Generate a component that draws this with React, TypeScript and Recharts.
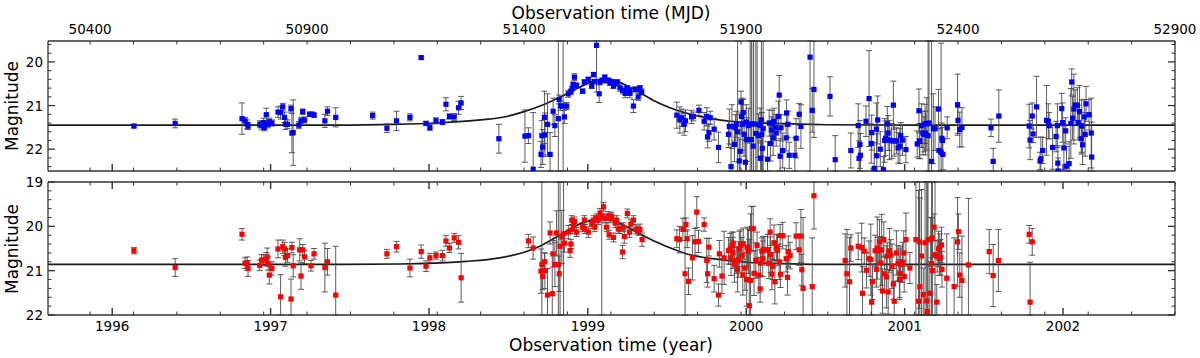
import React from 'react';
import { ComposedChart, Scatter, Line, XAxis, YAxis, ErrorBar } from 'recharts';

type Obs = [number, number, number];
type Pt = [number, number];

const MJD_DOMAIN: [number, number] = [50303, 52900];
const TOP_MAG_DOMAIN: [number, number] = [19.52, 22.5];
const BOTTOM_MAG_DOMAIN: [number, number] = [19, 22];

const mjdTicks = [50400, 50500, 50600, 50700, 50800, 50900, 51000, 51100, 51200, 51300, 51400, 51500, 51600,
  51700, 51800, 51900, 52000, 52100, 52200, 52300, 52400, 52500, 52600, 52700, 52800, 52900];
const mjdLabels = [50400, 50900, 51400, 51900, 52400, 52900];
const yearTicks = [50451, 50816, 51181, 51547, 51912, 52277, 52642];
const yearLabels = ['1996', '1997', '1998', '1999', '2000', '2001', '2002'];
const topMagTicks = [19.6, 19.8, 20, 20.2, 20.4, 20.6, 20.8, 21, 21.2, 21.4, 21.6, 21.8, 22, 22.2, 22.4];
const bottomMagTicks = [19, 19.2, 19.4, 19.6, 19.8, 20, 20.2, 20.4, 20.6, 20.8, 21, 21.2, 21.4, 21.6, 21.8, 22];

// [MJD, magnitude, error] - blue band (top panel)
const blueObs: Obs[] = [
  [50501, 21.47, 0.04], [50596, 21.41, 0.1], [50750, 21.3, 0.36], [50757, 21.35, 0.08], [50762, 21.43, 0.1],
  [50764, 21.47, 0.08], [50791, 21.43, 0.08], [50795, 21.46, 0.1], [50800, 21.39, 0.1], [50802, 21.5, 0.08],
  [50806, 21.21, 0.15], [50810, 21.43, 0.08], [50813, 21.37, 0.08], [50819, 21.4, 0.07], [50833, 21.15, 0.12],
  [50839, 21.16, 0.15], [50844, 21.03, 0.08], [50848, 21.27, 0.12], [50850, 21.43, 0.12], [50855, 21.43, 0.1],
  [50863, 21.07, 0.08], [50865, 21.63, 0.45], [50868, 21.62, 0.75], [50881, 21.45, 0.08], [50886, 21.35, 0.08],
  [50890, 21.14, 0.06], [50894, 21.33, 0.07], [50906, 21.2, 0.05], [50912, 21.2, 0.05], [50916, 21.22, 0.05],
  [50941, 21.35, 0.15], [50947, 21.13, 0.1], [50966, 21.27, 0.22], [51051, 21.23, 0.08], [51084, 21.52, 0.1],
  [51106, 21.35, 0.22], [51137, 21.27, 0.08], [51163, 19.9, 0.03], [51174, 21.41, 0.05], [51183, 21.5, 0.07],
  [51197, 21.35, 0.07], [51212, 21.38, 0.06], [51220, 20.97, 0.15], [51228, 21.25, 0.06], [51239, 21.26, 0.08],
  [51249, 21.05, 0.15], [51255, 20.94, 0.15], [51342, 21.76, 0.33], [51402, 21.7, 0.6], [51410, 21.69, 0.18],
  [51421, 22.46, 1.3], [51439, 22.12, 0.3], [51441, 21.69, 0.35], [51443, 21.95, 0.4], [51447, 21.27, 0.6],
  [51448, 21.67, 0.5], [51454, 21.43, 0.7], [51460, 22.12, 0.5], [51467, 21.13, 0.3], [51471, 21.46, 0.25],
  [51479, 21.3, 3], [51481, 20.86, 0.1], [51484, 21.01, 0.1], [51490, 21.01, 3], [51493, 21.26, 0.15],
  [51498, 21.01, 0.08], [51502, 20.73, 0.08], [51508, 20.68, 0.06], [51511, 20.61, 0.05], [51513, 20.52, 0.06],
  [51516, 20.35, 0.08], [51521, 20.54, 0.06], [51535, 20.67, 0.05], [51539, 20.46, 0.05], [51548, 20.4, 0.05],
  [51556, 20.55, 0.06], [51560, 20.29, 0.05], [51562, 20.45, 0.05], [51567, 19.62, 1.07], [51573, 20.73, 0.2],
  [51575, 20.46, 0.05], [51580, 20.42, 0.05], [51586, 20.35, 0.05], [51590, 20.43, 0.05], [51594, 20.42, 0.05],
  [51598, 20.48, 0.06], [51602, 20.46, 0.05], [51606, 20.55, 0.06], [51610, 20.5, 0.05], [51615, 20.46, 0.05],
  [51621, 20.59, 0.08], [51627, 20.65, 0.08], [51633, 20.72, 0.1], [51637, 20.6, 0.06], [51643, 20.66, 0.07],
  [51644, 20.72, 0.1], [51652, 21.01, 0.15], [51656, 20.63, 0.06], [51663, 20.8, 0.08], [51667, 20.6, 0.06],
  [51671, 20.69, 0.07], [51752, 21.22, 0.3], [51759, 21.33, 0.3], [51763, 21.28, 0.2], [51769, 21.43, 0.25],
  [51772, 21.35, 0.25], [51786, 21.26, 0.15], [51790, 21.25, 0.1], [51803, 21.11, 0.12], [51815, 21.36, 0.2],
  [51821, 21.25, 0.2], [51823, 21.72, 0.25], [51826, 21.62, 0.2], [51829, 21.28, 0.15], [51838, 21.54, 0.25],
  [51848, 21.96, 0.35], [51871, 21.66, 0.3], [51873, 21.48, 0.4], [51877, 22.4, 0.5], [51879, 21.48, 0.5],
  [51885, 21.89, 0.4], [51887, 21.51, 0.3], [51889, 21.43, 0.3], [51892, 21.6, 2.5], [51896, 22.27, 0.5],
  [51898, 22.05, 0.6], [51900, 20.92, 0.25], [51901, 21.25, 0.4], [51903, 21.43, 0.6], [51905, 21.16, 0.3],
  [51907, 21.66, 0.5], [51910, 22.3, 0.5], [51912, 21.38, 0.4], [51913, 21.78, 0.5], [51917, 21.46, 0.4],
  [51921, 21.42, 3], [51924, 21.78, 3], [51928, 21.93, 2.5], [51929, 21.42, 3], [51934, 21.64, 2.5],
  [51937, 21.43, 3], [51940, 21.69, 0.5], [51944, 21.46, 0.4], [51945, 22.21, 0.4], [51947, 21.33, 1.8],
  [51948, 21.66, 0.5], [51949, 21.98, 0.6], [51951, 21.53, 2], [51961, 22.23, 0.4], [51965, 21.4, 0.3],
  [51968, 21.87, 0.4], [51970, 21.56, 0.3], [51972, 21.41, 0.3], [51974, 21.74, 0.4], [51976, 21.36, 0.3],
  [51980, 21.5, 0.3], [51981, 21.63, 0.3], [51986, 21.25, 0.35], [51988, 20.76, 0.45], [51990, 22.16, 0.4],
  [51992, 21.51, 0.3], [51996, 22.03, 0.4], [52004, 21.74, 0.3], [52005, 21.17, 0.3], [52008, 21.43, 0.3],
  [52011, 22.14, 0.3], [52024, 22.14, 0.4], [52027, 21.75, 0.45], [52034, 21.2, 0.25], [52038, 21.48, 0.5],
  [52059, 19.89, 2.7], [52064, 21.11, 0.5], [52068, 20.63, 1.1], [52105, 20.79, 0.45], [52117, 22.24, 0.55],
  [52153, 22.03, 0.4], [52170, 21.46, 0.5], [52172, 22.21, 0.4], [52174, 21.89, 0.55], [52175, 22.14, 0.5],
  [52188, 21.36, 0.35], [52195, 20.84, 1.1], [52200, 21.87, 0.45], [52201, 21.62, 0.4], [52207, 22.44, 0.6],
  [52212, 21.54, 0.6], [52213, 22.15, 0.5], [52215, 21.33, 0.55], [52221, 22.0, 0.4], [52228, 22.47, 0.3],
  [52231, 21.8, 0.5], [52233, 21.75, 0.4], [52237, 21.42, 0.4], [52239, 21.63, 0.4], [52242, 21.79, 0.45],
  [52247, 21.81, 0.4], [52251, 20.99, 0.55], [52253, 21.81, 0.35], [52258, 21.81, 0.3], [52262, 21.97, 0.35],
  [52266, 21.93, 0.4], [52268, 21.69, 0.3], [52272, 21.79, 0.35], [52280, 22.01, 0.3], [52306, 21.88, 0.3],
  [52310, 21.12, 0.5], [52311, 21.81, 0.4], [52312, 21.82, 0.4], [52316, 21.46, 0.5], [52319, 21.63, 0.5],
  [52322, 21.66, 0.4], [52324, 21.42, 0.45], [52325, 21.63, 0.5], [52328, 21.42, 0.6], [52331, 21.69, 3],
  [52333, 21.4, 3], [52339, 22.28, 3], [52343, 21.53, 0.8], [52347, 21.53, 0.5], [52355, 21.08, 0.45],
  [52356, 22.03, 0.5], [52361, 22.07, 2.5], [52363, 21.75, 0.35], [52364, 21.8, 0.3], [52365, 22.12, 0.35],
  [52375, 21.51, 0.25], [52399, 20.98, 0.7], [52400, 21.34, 0.3], [52404, 21.55, 0.4], [52409, 21.5, 0.45],
  [52476, 21.51, 0.2], [52481, 22.28, 0.3], [52494, 21.24, 0.6], [52564, 21.47, 0.5], [52566, 21.79, 0.45],
  [52571, 21.24, 0.3], [52573, 21.65, 0.2], [52581, 21.03, 0.7], [52589, 22.27, 0.2], [52591, 22.22, 0.5],
  [52595, 22.03, 0.3], [52604, 21.34, 0.8], [52608, 21.36, 0.4], [52610, 21.46, 0.3], [52618, 21.96, 0.5],
  [52626, 21.71, 0.35], [52629, 21.46, 0.5], [52630, 22.32, 0.4], [52631, 22.5, 0.3], [52639, 21.07, 0.35],
  [52641, 21.39, 0.45], [52644, 21.97, 0.5], [52648, 21.58, 0.3], [52650, 22.39, 0.45], [52656, 22.33, 0.5],
  [52660, 21.41, 0.8], [52662, 20.46, 0.3], [52664, 21.29, 0.5], [52667, 21.08, 0.8], [52670, 20.99, 0.35],
  [52675, 20.99, 0.4], [52677, 21.39, 0.4], [52680, 21.14, 0.6], [52684, 21.76, 0.35], [52685, 21.47, 0.6],
  [52687, 21.9, 0.45], [52691, 21.26, 0.4], [52693, 21.66, 0.5], [52695, 20.96, 0.4], [52702, 21.21, 0.35],
  [52707, 21.63, 0.8], [52708, 22.18, 0.8],
];

// [MJD, magnitude, error] - red band (bottom panel)
const redObs: Obs[] = [
  [50501, 20.55, 0.07], [50596, 20.93, 0.2], [50750, 20.18, 0.13], [50757, 20.83, 0.12], [50762, 20.84, 0.15],
  [50764, 20.95, 0.18], [50791, 20.88, 0.12], [50795, 20.76, 0.12], [50800, 20.76, 0.12], [50806, 20.74, 0.15],
  [50808, 20.69, 0.2], [50810, 20.84, 0.15], [50813, 21.1, 0.2], [50819, 20.95, 0.15], [50833, 20.51, 0.2],
  [50839, 21.59, 0.5], [50844, 20.46, 0.15], [50848, 20.51, 0.15], [50850, 20.7, 0.2], [50855, 20.66, 0.15],
  [50863, 21.64, 0.45], [50865, 20.48, 0.12], [50868, 20.89, 0.25], [50883, 20.53, 0.25], [50886, 21.12, 0.3],
  [50890, 20.53, 0.12], [50894, 20.69, 0.15], [50909, 20.89, 0.12], [50916, 20.62, 0.12], [50941, 20.93, 0.55],
  [50947, 20.8, 0.3], [50966, 21.55, 1.1], [51084, 20.62, 0.1], [51106, 20.46, 0.12], [51137, 20.94, 0.2],
  [51163, 20.57, 0.15], [51174, 20.9, 0.12], [51183, 20.71, 0.1], [51197, 20.66, 0.08], [51212, 20.66, 0.12],
  [51220, 20.33, 0.12], [51228, 20.49, 0.1], [51239, 20.26, 0.1], [51249, 20.36, 0.15], [51255, 21.16, 0.55],
  [51410, 20.33, 0.15], [51421, 20.49, 0.25], [51439, 21.01, 0.5], [51441, 20.86, 3], [51443, 21.13, 0.3],
  [51447, 20.8, 0.2], [51448, 21.0, 0.4], [51454, 21.55, 0.6], [51460, 20.15, 0.25], [51465, 21.52, 0.9],
  [51467, 20.62, 0.3], [51471, 20.86, 0.5], [51475, 20.15, 0.5], [51479, 20.86, 3], [51481, 21.07, 0.4],
  [51483, 20.45, 3], [51487, 20.24, 0.6], [51491, 20.17, 3], [51493, 20.38, 0.2], [51502, 20.13, 0.15],
  [51506, 20.55, 0.15], [51508, 20.4, 0.1], [51510, 19.86, 0.1], [51512, 20.07, 0.1], [51514, 19.97, 0.1],
  [51516, 19.89, 0.1], [51521, 20.13, 0.1], [51535, 20.02, 0.1], [51539, 19.86, 0.1], [51540, 20.06, 0.1],
  [51548, 20.13, 0.12], [51556, 19.95, 0.1], [51560, 19.86, 0.1], [51563, 20.02, 0.1], [51567, 19.82, 0.1],
  [51571, 19.86, 0.1], [51575, 19.7, 0.1], [51579, 19.77, 3], [51583, 19.56, 0.1], [51586, 19.82, 0.1],
  [51590, 20.02, 0.1], [51594, 19.77, 0.1], [51596, 20.19, 0.1], [51599, 19.82, 0.1], [51602, 19.78, 0.1],
  [51606, 20.25, 0.1], [51610, 19.93, 0.1], [51613, 19.86, 0.1], [51617, 20.06, 0.1], [51621, 20.06, 0.1],
  [51627, 20.58, 0.15], [51629, 20.02, 0.1], [51631, 20.23, 0.15], [51638, 19.71, 0.1], [51643, 20.13, 0.12],
  [51646, 19.95, 0.1], [51652, 19.86, 0.1], [51658, 20.07, 0.1], [51663, 20.1, 0.1], [51667, 20.07, 0.12],
  [51672, 20.3, 0.15], [51752, 20.28, 0.2], [51758, 20.3, 0.3], [51766, 20.07, 0.25], [51771, 21.07, 3],
  [51773, 19.96, 0.15], [51776, 20.28, 0.2], [51779, 21.24, 0.3], [51788, 20.71, 0.5], [51794, 20.35, 0.3],
  [51798, 19.68, 0.35], [51802, 20.34, 0.25], [51815, 19.96, 0.15], [51821, 20.77, 0.5], [51823, 21.07, 0.3],
  [51826, 20.47, 0.2], [51838, 21.18, 0.3], [51848, 21.55, 0.25], [51850, 20.62, 0.3], [51856, 21.12, 0.4],
  [51861, 20.71, 0.6], [51871, 20.55, 0.3], [51875, 20.51, 0.35], [51877, 20.71, 0.4], [51879, 20.43, 0.3],
  [51881, 20.6, 0.35], [51882, 20.38, 0.25], [51885, 20.86, 0.4], [51889, 20.77, 0.3], [51892, 20.98, 0.5],
  [51894, 20.75, 0.4], [51896, 20.51, 0.4], [51899, 20.43, 0.35], [51902, 20.65, 0.4], [51904, 21.1, 0.45],
  [51905, 20.39, 0.35], [51909, 20.94, 0.5], [51913, 21.2, 0.6], [51915, 20.47, 0.45], [51917, 20.56, 0.5],
  [51919, 21.79, 1.5], [51922, 21.22, 1.5], [51924, 20.05, 0.5], [51928, 20.05, 0.5], [51930, 21.06, 0.5],
  [51934, 20.77, 0.4], [51937, 20.43, 0.3], [51941, 21.1, 0.4], [51944, 21.41, 0.3], [51945, 20.83, 0.3],
  [51948, 20.56, 0.3], [51950, 20.73, 0.4], [51951, 20.53, 0.3], [51955, 20.53, 0.3], [51961, 20.53, 0.35],
  [51964, 20.83, 0.35], [51967, 20.13, 0.3], [51968, 20.64, 0.4], [51971, 21.08, 0.35], [51973, 20.9, 0.3],
  [51976, 20.37, 0.4], [51978, 21.25, 0.5], [51982, 20.48, 0.3], [51984, 20.54, 0.35], [51988, 20.8, 0.4],
  [51990, 20.21, 0.25], [51991, 21.08, 0.3], [51996, 20.21, 0.3], [52004, 20.73, 0.3], [52007, 21.15, 0.4],
  [52009, 20.57, 0.35], [52013, 20.66, 0.3], [52027, 20.22, 0.3], [52034, 20.53, 0.35], [52038, 20.22, 0.6],
  [52040, 20.98, 0.35], [52043, 21.4, 1.6], [52064, 21.36, 1.1], [52068, 19.31, 0.75], [52140, 20.77, 0.6],
  [52144, 21.07, 1.0], [52150, 21.25, 1.0], [52153, 20.49, 0.3], [52170, 20.45, 0.3], [52178, 20.48, 0.55],
  [52180, 21.51, 0.6], [52184, 20.56, 0.3], [52189, 20.99, 0.4], [52195, 20.73, 0.4], [52199, 20.75, 0.8],
  [52201, 21.71, 0.5], [52203, 21.25, 0.4], [52209, 20.55, 0.35], [52212, 20.97, 0.4], [52214, 20.49, 0.7],
  [52216, 20.55, 0.3], [52219, 20.35, 0.5], [52222, 20.83, 0.6], [52224, 20.53, 0.8], [52226, 21.46, 0.5],
  [52229, 20.3, 0.4], [52231, 21.07, 0.4], [52235, 21.14, 0.7], [52237, 20.67, 0.3], [52239, 21.48, 0.5],
  [52242, 20.55, 0.5], [52245, 20.65, 0.35], [52248, 20.9, 0.5], [52251, 21.3, 0.35], [52253, 21.69, 0.45],
  [52258, 20.6, 0.5], [52262, 20.83, 0.4], [52265, 21.2, 0.45], [52266, 21.06, 0.55], [52268, 20.86, 0.4],
  [52272, 20.81, 0.45], [52275, 20.6, 0.5], [52276, 21.13, 0.35], [52280, 20.3, 0.6], [52289, 20.94, 0.35],
  [52303, 20.3, 2.5], [52309, 21.69, 2.5], [52311, 20.35, 1.5], [52312, 21.36, 2], [52316, 20.67, 1.5],
  [52320, 21.54, 0.6], [52324, 20.37, 2.5], [52328, 21.68, 3], [52329, 21.92, 3], [52331, 20.3, 3],
  [52335, 21.51, 0.6], [52337, 20.3, 0.5], [52339, 20.84, 3], [52340, 20.26, 0.45], [52341, 21.0, 3],
  [52345, 20.02, 0.3], [52347, 20.64, 3], [52351, 21.71, 0.4], [52352, 20.68, 0.35], [52355, 20.51, 0.4],
  [52357, 20.71, 0.4], [52358, 20.47, 0.3], [52360, 20.7, 0.4], [52362, 20.42, 0.4], [52363, 20.97, 0.4],
  [52374, 21.17, 1.0], [52391, 21.36, 1.1], [52399, 20.35, 1.0], [52401, 20.12, 0.4], [52404, 21.1, 0.5],
  [52409, 21.22, 1.0], [52424, 20.87, 1.5], [52472, 20.57, 0.5], [52481, 21.11, 0.7], [52493, 20.77, 0.7],
  [52564, 20.18, 0.2], [52566, 21.71, 0.9], [52571, 20.35, 0.3],
];

// fitted light curves: [MJD, magnitude]
const blueFit: Pt[] = [
  [50303, 21.45], [50900, 21.45], [51100, 21.43], [51200, 21.4], [51300, 21.33], [51360, 21.25],
  [51400, 21.14], [51440, 21.0], [51480, 20.82], [51520, 20.62], [51550, 20.48], [51570, 20.41],
  [51588, 20.38], [51606, 20.41], [51626, 20.49], [51656, 20.64], [51696, 20.87], [51736, 21.05],
  [51776, 21.18], [51816, 21.27], [51876, 21.36], [51976, 21.41], [52100, 21.44], [52300, 21.45], [52900, 21.45],
];
const redFit: Pt[] = [
  [50303, 20.86], [50900, 20.86], [51113, 20.85], [51267, 20.79], [51344, 20.71], [51402, 20.58],
  [51440, 20.43], [51482, 20.2], [51528, 19.95], [51567, 19.85], [51590, 19.84], [51613, 19.9],
  [51651, 20.09], [51697, 20.32], [51751, 20.54], [51782, 20.64], [51835, 20.73], [51913, 20.81],
  [51989, 20.84], [52143, 20.86], [52900, 20.86],
];

const FONT = '"DejaVu Sans", sans-serif';
const FRAME = '#333333';
const TICK_FONT = 13.5;
const TITLE_FONT = 17;

// keep only points inside the panel, and cut error bars at the panel edges
const toPoints = (obs: Obs[], dom: [number, number]) =>
  obs
    .filter(([, y]) => y >= dom[0] && y <= dom[1])
    .map(([x, y, e]) => ({ x, y, e: [Math.min(e, y - dom[0]), Math.min(e, dom[1] - y)] }));
const toLine = (pts: Pt[]) => pts.map(([x, y]) => ({ x, y }));

const mixedTicks = [...mjdTicks, ...yearTicks].sort((a, b) => a - b);

function xTick(edge: 'top' | 'bottom', labelMode: 'mjd' | 'year' | 'none') {
  return (props: any) => {
    const { x, y, payload } = props;
    const v = payload.value as number;
    const yi = yearTicks.indexOf(v);
    const isYear = yi >= 0;
    const dir = edge === 'bottom' ? -1 : 1;
    const len = isYear ? 7 : 3.5;
    let label: React.ReactNode = null;
    if (labelMode === 'mjd' && !isYear && mjdLabels.indexOf(v) >= 0) {
      label = (
        <text x={x} y={y - 7.5} textAnchor="middle" fontSize={TICK_FONT} fontFamily={FONT} fill="#000">
          {String(v)}
        </text>
      );
    }
    if (labelMode === 'year' && isYear) {
      label = (
        <text x={x} y={y + 16} textAnchor="middle" fontSize={TICK_FONT} fontFamily={FONT} fill="#000">
          {yearLabels[yi]}
        </text>
      );
    }
    return (
      <g>
        <line x1={x} x2={x} y1={y} y2={y + dir * len} stroke={FRAME} strokeWidth={isYear ? 1.4 : 1} />
        {label}
      </g>
    );
  };
}

function yTick(edge: 'left' | 'right', showLabels: boolean) {
  return (props: any) => {
    const { x, y, payload } = props;
    const v = payload.value as number;
    const major = Math.abs(v - Math.round(v)) < 1e-6;
    const len = major ? 7 : 3.5;
    const dir = edge === 'left' ? 1 : -1;
    return (
      <g>
        <line x1={x} x2={x + dir * len} y1={y} y2={y} stroke={FRAME} strokeWidth={major ? 1.3 : 1} />
        {showLabels && major ? (
          <text x={x - 5} y={y + 5} textAnchor="end" fontSize={TICK_FONT} fontFamily={FONT} fill="#000">
            {String(Math.round(v))}
          </text>
        ) : null}
      </g>
    );
  };
}

const square = (color: string) => (props: any) => {
  const { cx, cy } = props;
  if (cx == null || cy == null) return <g />;
  return <rect x={cx - 2.6} y={cy - 2.6} width={5.2} height={5.2} fill={color} />;
};

interface PanelProps {
  obs: Obs[];
  fit: Pt[];
  color: string;
  magDomain: [number, number];
  magTicks: number[];
  height: number;
  margin: { top: number; right: number; bottom: number; left: number };
  topTicks: number[];
  topLabels: 'mjd' | 'none';
  bottomLabels: 'year' | 'none';
}

const axisLine = { stroke: FRAME, strokeWidth: 1.3 };

function Panel(p: PanelProps) {
  return (
    <ComposedChart width={1200} height={p.height} margin={p.margin}>
      <XAxis
        xAxisId="b"
        dataKey="x"
        type="number"
        orientation="bottom"
        domain={MJD_DOMAIN}
        allowDataOverflow
        ticks={mixedTicks}
        interval={0}
        height={1}
        tickSize={0}
        tickMargin={0}
        tickLine={false}
        axisLine={axisLine}
        tick={xTick('bottom', p.bottomLabels)}
      />
      <XAxis
        xAxisId="t"
        dataKey="x"
        type="number"
        orientation="top"
        domain={MJD_DOMAIN}
        allowDataOverflow
        ticks={p.topTicks}
        interval={0}
        height={1}
        tickSize={0}
        tickMargin={0}
        tickLine={false}
        axisLine={axisLine}
        tick={xTick('top', p.topLabels)}
      />
      <YAxis
        yAxisId="l"
        dataKey="y"
        type="number"
        orientation="left"
        domain={p.magDomain}
        reversed
        allowDataOverflow
        ticks={p.magTicks}
        interval={0}
        width={1}
        tickSize={0}
        tickMargin={0}
        tickLine={false}
        axisLine={axisLine}
        tick={yTick('left', true)}
      />
      <YAxis
        yAxisId="r"
        dataKey="y"
        type="number"
        orientation="right"
        domain={p.magDomain}
        reversed
        allowDataOverflow
        ticks={p.magTicks}
        interval={0}
        width={1}
        tickSize={0}
        tickMargin={0}
        tickLine={false}
        axisLine={axisLine}
        tick={yTick('right', false)}
      />
      <Line
        xAxisId="b"
        yAxisId="l"
        data={toLine(p.fit)}
        dataKey="y"
        type="monotone"
        stroke="#1a1a1a"
        strokeWidth={1.7}
        dot={false}
        activeDot={false}
        isAnimationActive={false}
      />
      <Scatter
        xAxisId="b"
        yAxisId="l"
        data={toPoints(p.obs, p.magDomain)}
        dataKey="y"
        isAnimationActive={false}
        shape={square(p.color)}
      >
        <ErrorBar dataKey="e" direction="y" width={3} stroke="#4a4a4a" strokeWidth={0.9} isAnimationActive={false} />
      </Scatter>
    </ComposedChart>
  );
}

export default function App() {
  return (
    <div style={{ position: 'absolute', left: 0, top: 0, width: 1200, height: 358, background: '#fff', fontFamily: FONT }}>
      <div style={{ position: 'absolute', left: 0, top: 0 }}>
        <Panel
          obs={blueObs}
          fit={blueFit}
          color="#0000ff"
          magDomain={TOP_MAG_DOMAIN}
          magTicks={topMagTicks}
          height={180}
          margin={{ top: 40, right: 24, bottom: 8, left: 47 }}
          topTicks={mjdTicks}
          topLabels="mjd"
          bottomLabels="none"
        />
      </div>
      <div style={{ position: 'absolute', left: 0, top: 175 }}>
        <Panel
          obs={redObs}
          fit={redFit}
          color="#ff0000"
          magDomain={BOTTOM_MAG_DOMAIN}
          magTicks={bottomMagTicks}
          height={183}
          margin={{ top: 6, right: 24, bottom: 42, left: 47 }}
          topTicks={mixedTicks}
          topLabels="none"
          bottomLabels="year"
        />
      </div>
      <svg width={1200} height={358} style={{ position: 'absolute', left: 0, top: 0, pointerEvents: 'none' }}>
        <text x={611} y={18.5} textAnchor="middle" fontSize={TITLE_FONT} fontFamily={FONT} fill="#000">
          Observation time (MJD)
        </text>
        <text x={611} y={351} textAnchor="middle" fontSize={TITLE_FONT} fontFamily={FONT} fill="#000">
          Observation time (year)
        </text>
        <text x={17.5} y={106} transform="rotate(-90, 17.5, 106)" textAnchor="middle" fontSize={TITLE_FONT} fontFamily={FONT} fill="#000">
          Magnitude
        </text>
        <text x={17.5} y={249} transform="rotate(-90, 17.5, 249)" textAnchor="middle" fontSize={TITLE_FONT} fontFamily={FONT} fill="#000">
          Magnitude
        </text>
      </svg>
    </div>
  );
}
